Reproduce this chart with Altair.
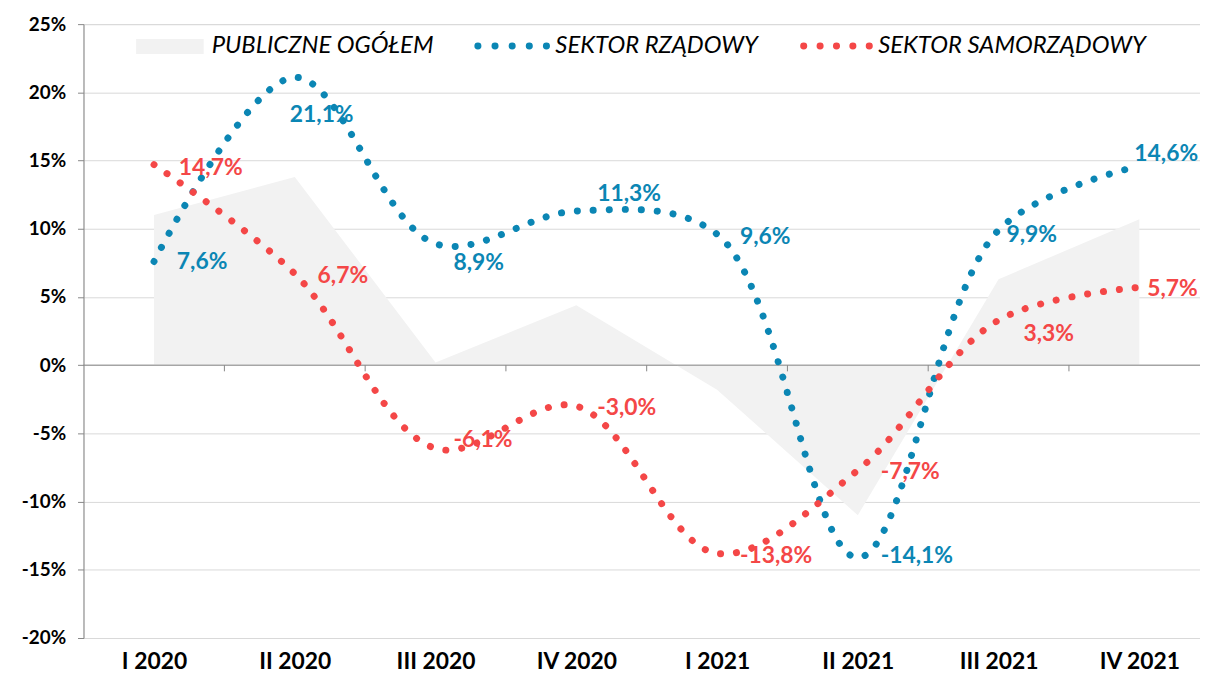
import altair as alt
import pandas as pd

# ---- data ----
quarters = ["I 2020", "II 2020", "III 2020", "IV 2020", "I 2021", "II 2021", "III 2021", "IV 2021"]
publiczne = [11.0, 13.8, 0.2, 4.4, -1.8, -11.0, 6.3, 10.7]
rzadowy = [7.6, 21.1, 8.9, 11.3, 9.6, -14.1, 9.9, 14.6]
samorzadowy = [14.7, 6.7, -6.1, -3.0, -13.8, -7.7, 3.3, 5.7]
series_names = ["PUBLICZNE OGÓŁEM", "SEKTOR RZĄDOWY", "SEKTOR SAMORZĄDOWY"]

# ---- styling ----
FONT = "Lato"
BLUE = "#0b86b4"
RED = "#f44747"
GREY_AREA = "#f2f2f2"
AXIS_GREY = "#878787"
GRID = "#d9d9d9"

def fmt(v):
    return f"{v:.1f}".replace(".", ",") + "%"

df_area = pd.DataFrame({"idx": range(len(quarters)), "value": publiczne})
rows = []
for name, vals in [(series_names[1], rzadowy), (series_names[2], samorzadowy)]:
    for i, v in enumerate(vals):
        rows.append({"series": name, "idx": i, "value": v, "label": fmt(v)})
df_lines = pd.DataFrame(rows)

label_expr = "[" + ",".join(f"'{q}'" for q in quarters) + "][datum.value]"

x_enc = alt.X(
    "idx:Q",
    scale=alt.Scale(domain=[-0.501, 7.431], nice=False, zero=False),
    axis=alt.Axis(
        values=list(range(len(quarters))),
        labelExpr=label_expr,
        domain=False, ticks=False, grid=False,
        labelFont=FONT, labelFontSize=23, labelFontWeight="bold", labelColor="#000000",
        labelPadding=13, labelFlush=False, labelOverlap=False,
    ),
    title=None,
)
y_enc = alt.Y(
    "value:Q",
    scale=alt.Scale(domain=[-20, 25], nice=False),
    axis=alt.Axis(
        values=list(range(-20, 30, 5)),
        labelExpr="datum.value + '%'",
        grid=True, gridColor=GRID, gridWidth=1,
        domainColor=AXIS_GREY, tickColor=AXIS_GREY, tickSize=6,
        labelFont=FONT, labelFontSize=19, labelFontWeight="bold", labelColor="#000000",
        labelPadding=12,
    ),
    title=None,
)

area = alt.Chart(df_area).mark_area(color=GREY_AREA, opacity=1, interpolate="linear").encode(x=x_enc, y=y_enc)

zero_line = alt.Chart(pd.DataFrame({"v": [0]})).mark_rule(color=AXIS_GREY, strokeWidth=1).encode(y="v:Q")

bounds = pd.DataFrame({"b": [i + 0.5 for i in range(len(quarters) - 1)]})
ticks = alt.Chart(bounds).mark_rule(color=AXIS_GREY, strokeWidth=1).encode(
    x="b:Q", y=alt.datum(0), y2=alt.datum(-0.45)
)

lines = alt.Chart(df_lines).mark_line(
    interpolate="catmull-rom", strokeWidth=7, strokeCap="round", strokeDash=[0.1, 16]
).encode(
    x="idx:Q", y="value:Q",
    color=alt.Color("series:N", scale=alt.Scale(domain=series_names[1:], range=[BLUE, RED]), legend=None),
)

# label offsets (dx, dy) in pixels per series/quarter
offsets = {
    series_names[1]: [(23, 1), (-5, 38), (18, 19), (21, -17), (23, 3), (23, -1), (8, 5), (-5, -12)],
    series_names[2]: [(25, 3), (23, 2), (18, -8), (21, 2), (23, 3), (23, 2), (25, 14), (8, 2)],
}
colors = {series_names[1]: BLUE, series_names[2]: RED}

label_layers = []
for s, offs in offsets.items():
    for i, (dx, dy) in enumerate(offs):
        label_layers.append(
            alt.Chart(df_lines)
            .transform_filter((alt.datum.series == s) & (alt.datum.idx == i))
            .mark_text(align="left", baseline="middle", dx=dx, dy=dy,
                       font=FONT, fontSize=23, fontWeight="bold", color=colors[s])
            .encode(x="idx:Q", y="value:Q", text="label:N")
        )

# manual legend (pixel positions inside the plot area)
one = pd.DataFrame({"a": [0]})
leg_rect = alt.Chart(one).mark_rect(color=GREY_AREA).encode(
    x=alt.value(53), x2=alt.value(121), y=alt.value(15), y2=alt.value(30))
leg_blue = alt.Chart(one).mark_rule(color=BLUE, strokeWidth=7, strokeCap="round", strokeDash=[0.1, 17.15]).encode(
    x=alt.value(397), x2=alt.value(466.1), y=alt.value(22))
leg_red = alt.Chart(one).mark_rule(color=RED, strokeWidth=7, strokeCap="round", strokeDash=[0.1, 16.4]).encode(
    x=alt.value(725), x2=alt.value(791.1), y=alt.value(22))
leg_texts = []
for name, xpos in zip(series_names, [129, 475, 800]):
    leg_texts.append(
        alt.Chart(one).mark_text(align="left", baseline="middle", font=FONT, fontSize=24,
                                 fontStyle="italic", color="#000000")
        .encode(x=alt.value(xpos), y=alt.value(22), text=alt.value(name))
    )

chart = alt.layer(
    area, zero_line, ticks, lines, *label_layers, leg_rect, leg_blue, leg_red, *leg_texts
).properties(
    width=1124, height=618,
    autosize=alt.AutoSizeParams(type="none"),
    padding={"left": 76, "top": 14, "right": 0, "bottom": 35},
).configure_view(stroke=None).configure(background="white")

chart.save("out.html", embed_options={"renderer": "svg", "actions": False})
